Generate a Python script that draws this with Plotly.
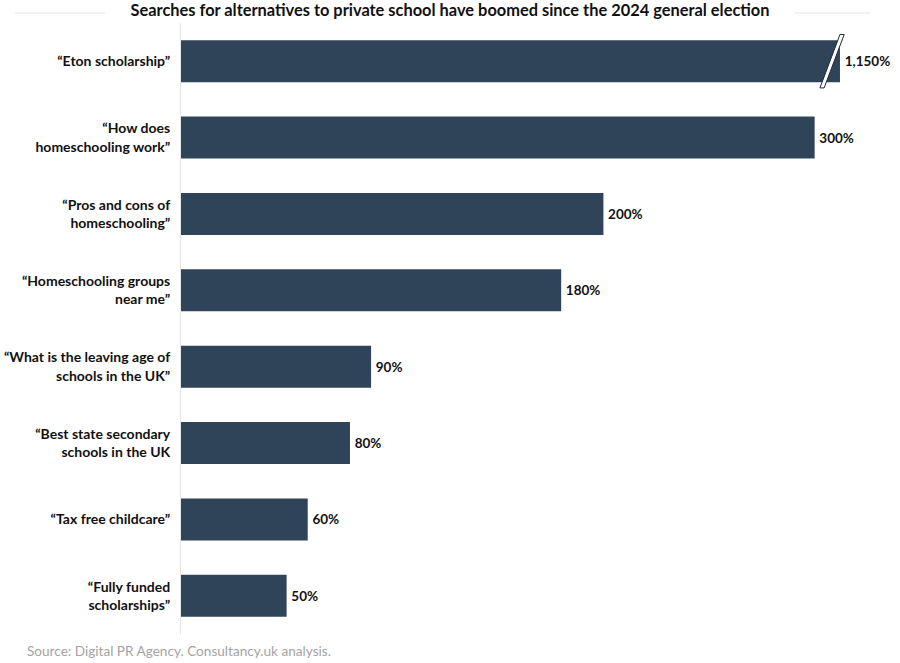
import plotly.graph_objects as go

categories = [
    "“Eton scholarship”",
    "“How does<br>homeschooling work”",
    "“Pros and cons of<br>homeschooling”",
    "“Homeschooling groups<br>near me”",
    "“What is the leaving age of<br>schools in the UK”",
    "“Best state secondary<br>schools in the UK",
    "“Tax free childcare”",
    "“Fully funded<br>scholarships”",
]
values = [1150, 300, 200, 180, 90, 80, 60, 50]
value_labels = ["1,150%", "300%", "200%", "180%", "90%", "80%", "60%", "50%"]

AXIS_CAP = 312  # bars above this value are drawn truncated with a break mark
BAR_COLOR = "#2F4459"
FONT = "Lato"

shown = [min(v, AXIS_CAP) for v in values]
idx = list(range(len(categories)))

fig = go.Figure()
fig.add_trace(go.Bar(
    x=shown, y=idx, orientation="h",
    marker=dict(color=BAR_COLOR, line=dict(width=0)),
    width=0.55,
    text=[f"<b>\u2009{t}</b>" for t in value_labels], textposition="outside", cliponaxis=False,
    textfont=dict(family=FONT, size=13.5, color="#111111"),
    hoverinfo="skip",
))

# break marks for truncated bars
shapes = []
for i, v in enumerate(values):
    if v > AXIS_CAP:
        xb = AXIS_CAP - 9.5
        xt = AXIS_CAP
        gap = 2.0
        yb = i + 0.35
        yt = i - 0.35
        path = (f"M {xb} {yb} L {xt} {yt} L {xt + gap} {yt} L {xb + gap} {yb} Z")
        shapes.append(dict(type="path", path=path, xref="x", yref="y",
                           fillcolor="white", line=dict(color="#1a2a38", width=1), layer="above"))

# title side rules
shapes.append(dict(type="line", xref="paper", yref="paper",
                   x0=(15 - 181) / 697, x1=(105 - 181) / 697,
                   y0=1 + 10 / 611, y1=1 + 10 / 611,
                   line=dict(color="#e3e3e3", width=1)))
shapes.append(dict(type="line", xref="paper", yref="paper",
                   x0=(795 - 181) / 697, x1=(870 - 181) / 697,
                   y0=1 + 10 / 611, y1=1 + 10 / 611,
                   line=dict(color="#e3e3e3", width=1)))

fig.update_layout(
    width=900, height=663,
    margin=dict(l=181, r=22, t=23, b=29),
    paper_bgcolor="white", plot_bgcolor="white",
    showlegend=False,
    bargap=0.45,
    shapes=shapes,
    title=dict(text="<b>Searches for alternatives to private school have boomed since the 2024 general election</b>",
               x=0.5, xanchor="center", y=1 - 10 / 663, yanchor="middle",
               font=dict(family=FONT, size=16.4, color="#111111")),
    xaxis=dict(range=[0, 330], visible=False, showgrid=False, zeroline=False, fixedrange=True,
               automargin=False),
    yaxis=dict(range=[len(categories) - 0.5, -0.5], tickvals=idx, ticktext=[f"<b>{c}</b>" for c in categories],
               ticks="outside", ticklen=7, tickcolor="rgba(0,0,0,0)", automargin=False,
               showline=True, linecolor="#e6e6e6", linewidth=1, showgrid=False, zeroline=False,
               tickfont=dict(family=FONT, size=14, color="#111111")),
    annotations=[dict(text="Source: Digital PR Agency. Consultancy.uk analysis.",
                      xref="paper", yref="paper", x=(25 - 181) / 697, y=-(651 - 634) / 611,
                      xanchor="left", yanchor="middle", showarrow=False,
                      font=dict(family=FONT, size=13.6, color="#a3a3a3"))],
)

fig.write_html("out.html", config={"displayModeBar": False},
               post_script="document.body.style.margin='0';")
